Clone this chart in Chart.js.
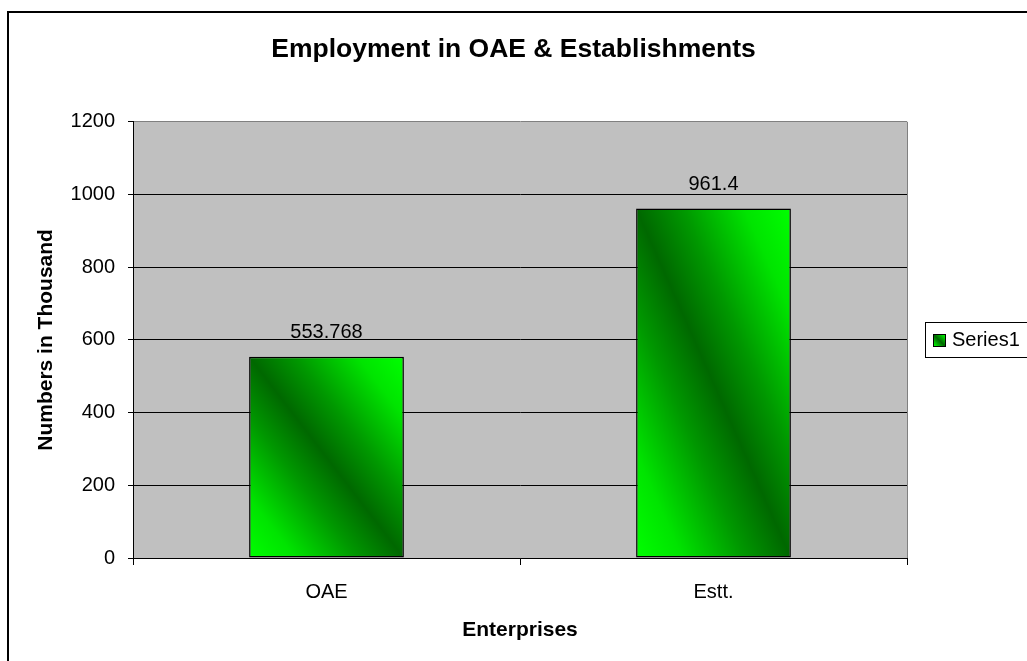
<!DOCTYPE html>
<html>
<head>
<meta charset="utf-8">
<title>Employment in OAE &amp; Establishments</title>
<script src="https://cdn.jsdelivr.net/npm/chart.js@4.4.1/dist/chart.umd.min.js"></script>
<style>
  html, body { margin: 0; padding: 0; background: #fff; }
  #wrap { width: 1027px; height: 661px; }
</style>
</head>
<body>
<div id="wrap"><canvas id="chart" width="1027" height="661"></canvas></div>
<script>
const categories = ["OAE", "Estt."];
const seriesName = "Series1";
const employment = [553.768, 961.4];
const valueLabels = ["553.768", "961.4"];
const yTicks = [0, 200, 400, 600, 800, 1000, 1200];

const FONT = '"Liberation Sans", Arial, sans-serif';
const BRIGHT = "#00ff00";

// diagonal gradient: dark band along top-left -> bottom-right, bright at the other corners
function diagGradient(ctx, left, top, right, bottom) {
  const w = right - left, h = bottom - top;
  const cx = (left + right) / 2, cy = (top + bottom) / 2;
  const L = Math.sqrt(w * w + h * h);
  const nx = h / L, ny = -w / L;
  const ext = (w * h) / L;
  const g = ctx.createLinearGradient(cx - nx * ext, cy - ny * ext, cx + nx * ext, cy + ny * ext);
  g.addColorStop(0, BRIGHT);
  g.addColorStop(0.15, "#00e400");
  g.addColorStop(0.35, "#009800");
  g.addColorStop(0.5, "#006800");
  g.addColorStop(0.65, "#009800");
  g.addColorStop(0.85, "#00e400");
  g.addColorStop(1, BRIGHT);
  return g;
}

const chartFrame = {
  id: "chartFrame",
  beforeDraw(chart) {
    const { ctx, chartArea } = chart;
    ctx.save();
    ctx.fillStyle = "#ffffff";
    ctx.fillRect(0, 0, chart.width, chart.height);
    // outer border (only left & top visible)
    ctx.strokeStyle = "#000";
    ctx.lineWidth = 2;
    ctx.strokeRect(8, 12, chart.width + 20, chart.height + 20);
    // plot background
    ctx.fillStyle = "#c0c0c0";
    ctx.fillRect(chartArea.left, chartArea.top, chartArea.right - chartArea.left, chartArea.bottom - chartArea.top);
    ctx.restore();
  },
  afterDraw(chart) {
    const { ctx, chartArea } = chart;
    ctx.save();
    // plot area right border
    ctx.strokeStyle = "#808080";
    ctx.lineWidth = 1;
    ctx.beginPath();
    ctx.moveTo(chartArea.right + 0.5, chartArea.top);
    ctx.lineTo(chartArea.right + 0.5, chartArea.bottom);
    ctx.stroke();

    // legend
    const lx = 925, ly = 322, lh = 35;
    ctx.fillStyle = "#fff";
    ctx.fillRect(lx, ly, 130, lh);
    ctx.strokeStyle = "#000";
    ctx.lineWidth = 1;
    ctx.strokeRect(lx + 0.5, ly + 0.5, 130, lh);
    ctx.fillStyle = diagGradient(ctx, 933, 334, 946, 347);
    ctx.fillRect(933, 334, 13, 13);
    ctx.strokeRect(933.5, 334.5, 12, 12);
    ctx.fillStyle = "#000";
    ctx.font = "20px " + FONT;
    ctx.textBaseline = "middle";
    ctx.textAlign = "left";
    ctx.fillText(chart.data.datasets[0].label, 952, ly + lh / 2 + 1);
    ctx.restore();
  }
};

const valueTags = {
  id: "valueTags",
  afterDatasetsDraw(chart) {
    const { ctx } = chart;
    const meta = chart.getDatasetMeta(0);
    ctx.save();
    ctx.fillStyle = "#000";
    ctx.font = "20px " + FONT;
    ctx.textAlign = "center";
    ctx.textBaseline = "middle";
    meta.data.forEach((bar, i) => {
      ctx.fillText(valueLabels[i], bar.x, bar.y - 24);
    });
    ctx.restore();
  }
};

new Chart(document.getElementById("chart"), {
  type: "bar",
  data: {
    labels: categories,
    datasets: [
      {
        label: seriesName,
        data: employment,
        backgroundColor(c) {
          const chart = c.chart;
          if (!chart.chartArea) return BRIGHT;
          const xs = chart.scales.x, ys = chart.scales.y;
          const cx = xs.getPixelForValue(c.dataIndex);
          const w = (xs.width / categories.length) * 0.4;
          const top = ys.getPixelForValue(c.raw);
          const bottom = ys.getPixelForValue(0);
          return diagGradient(chart.ctx, cx - w / 2, top, cx + w / 2, bottom);
        },
        borderColor: "#000",
        borderWidth: 1.5,
        borderSkipped: false,
        categoryPercentage: 1,
        barPercentage: 0.4,
      },
    ],
  },
  options: {
    responsive: false,
    animation: false,
    devicePixelRatio: 1,
    layout: {
      padding: 0,
    },
    plugins: {
      legend: { display: false },
      tooltip: { enabled: false },
      title: {
        display: true,
        text: "Employment in OAE & Establishments",
        color: "#000",
        font: { family: FONT, size: 26.5, weight: "bold" },
        padding: { top: 34, bottom: 56 },
      },
    },
    scales: {
      x: {
        afterFit(scale) { scale.height = 103; },
        grid: {
          offset: true,
          drawOnChartArea: false,
          drawTicks: true,
          tickLength: 7,
          color: "#000",
        },
        border: { color: "#000", width: 1 },
        ticks: {
          color: "#000",
          padding: 15,
          font: { family: FONT, size: 20 },
        },
        title: {
          display: true,
          text: "Enterprises",
          color: "#000",
          font: { family: FONT, size: 21, weight: "bold" },
          padding: { top: 0, bottom: 18 },
        },
      },
      y: {
        min: yTicks[0],
        max: yTicks[yTicks.length - 1],
        afterFit(scale) { scale.width = 133; },
        afterBuildTicks(scale) { scale.ticks = yTicks.map((v) => ({ value: v })); },
        grid: {
          color(c) { return c.tick && c.tick.value === 1200 ? "#808080" : "#000"; },
          lineWidth: 1,
          tickLength: 5,
          tickColor: "#000",
        },
        border: { color: "#000", width: 1 },
        ticks: {
          color: "#000",
          padding: 13,
          font: { family: FONT, size: 20 },
          callback: (v) => String(v),
        },
        title: {
          display: true,
          text: "Numbers in Thousand",
          color: "#000",
          font: { family: FONT, size: 21, weight: "bold" },
          padding: { top: 34, bottom: 0 },
        },
      },
      // empty right-hand axis that reserves the legend's space
      side: {
        axis: "y",
        position: "right",
        afterFit(scale) { scale.width = 120; },
        grid: { display: false },
        border: { display: false },
        ticks: { display: false },
      },
    },
  },
  plugins: [chartFrame, valueTags],
});
</script>
</body>
</html>
